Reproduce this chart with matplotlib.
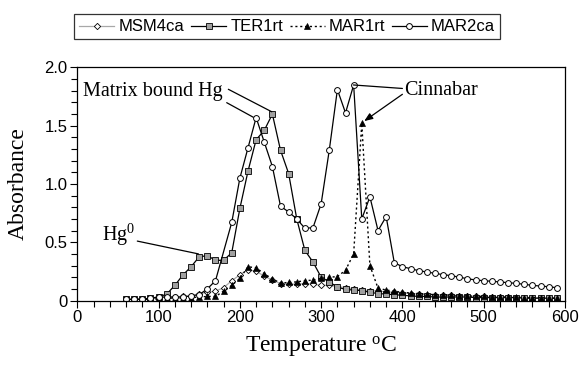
import matplotlib
matplotlib.use("Agg")
import matplotlib.pyplot as plt
from matplotlib.ticker import MultipleLocator, FixedLocator

# Temperature steps (deg C)
temps = list(range(60, 600, 10))
temps_mar2ca = [t for t in temps if t != 180]

msm4ca = [0.01, 0.01, 0.01, 0.015, 0.02, 0.03, 0.03, 0.035, 0.04, 0.06,
          0.07, 0.08, 0.11, 0.17, 0.22, 0.265, 0.25, 0.21, 0.175, 0.145,
          0.14, 0.14, 0.145, 0.14, 0.13, 0.13, 0.12, 0.11, 0.10, 0.09,
          0.085, 0.08, 0.075, 0.07, 0.065, 0.06, 0.055, 0.05, 0.05, 0.045,
          0.045, 0.04, 0.04, 0.035, 0.035, 0.03, 0.03, 0.03, 0.025, 0.025,
          0.025, 0.02, 0.02, 0.02]

ter1rt = [0.01, 0.01, 0.01, 0.02, 0.03, 0.055, 0.13, 0.22, 0.29, 0.375,
          0.385, 0.345, 0.345, 0.41, 0.79, 1.11, 1.38, 1.46, 1.60, 1.29,
          1.09, 0.70, 0.43, 0.33, 0.20, 0.16, 0.115, 0.095, 0.09, 0.085,
          0.07, 0.06, 0.055, 0.05, 0.045, 0.04, 0.035, 0.035, 0.03, 0.03,
          0.03, 0.03, 0.03, 0.025, 0.025, 0.025, 0.025, 0.025, 0.025, 0.02,
          0.02, 0.02, 0.02, 0.02]

mar1rt = [0.01, 0.01, 0.01, 0.01, 0.015, 0.02, 0.02, 0.02, 0.025, 0.03,
          0.035, 0.035, 0.08, 0.13, 0.19, 0.29, 0.28, 0.23, 0.185, 0.15,
          0.155, 0.16, 0.17, 0.175, 0.19, 0.20, 0.205, 0.26, 0.40, 1.52,
          0.30, 0.105, 0.09, 0.08, 0.07, 0.065, 0.06, 0.055, 0.05, 0.05,
          0.045, 0.04, 0.04, 0.035, 0.035, 0.03, 0.03, 0.03, 0.03, 0.025,
          0.025, 0.025, 0.02, 0.02]

mar2ca = [0.01, 0.01, 0.013, 0.02, 0.03, 0.03, 0.03, 0.03, 0.04, 0.05,
          0.10, 0.17, 0.67, 1.05, 1.31, 1.57, 1.36, 1.15, 0.81, 0.76,
          0.70, 0.62, 0.625, 0.83, 1.29, 1.81, 1.61, 1.85, 0.70, 0.89,
          0.60, 0.72, 0.325, 0.29, 0.273, 0.256, 0.245, 0.233, 0.222, 0.213,
          0.20, 0.187, 0.176, 0.17, 0.165, 0.159, 0.153, 0.147, 0.139, 0.13,
          0.124, 0.118, 0.11]

x_ticks = [0, 100, 200, 300, 400, 500, 600]
y_ticks = [0, 0.5, 1.0, 1.5, 2.0]
y_tick_labels = ["0", "0.5", "1.0", "1.5", "2.0"]

plt.rcParams["font.family"] = "Liberation Sans"
plt.rcParams["mathtext.fontset"] = "custom"
plt.rcParams["mathtext.rm"] = "Liberation Serif"
plt.rcParams["mathtext.it"] = "Liberation Serif"
serif = "Liberation Serif"

fig = plt.figure(figsize=(5.84, 3.68), dpi=100)
ax = fig.add_axes([0.1324, 0.1834, 0.835, 0.6332])

# Series, in legend order (last one on top)
ax.plot(temps, msm4ca, color="#a8a8a8", lw=0.9, marker="D", ms=3.2,
        mfc="white", mec="black", mew=0.6, label="MSM4ca")
ax.plot(temps, ter1rt, color="black", lw=0.9, marker="s", ms=4.2,
        mfc="#a0a0a0", mec="black", mew=0.6, label="TER1rt")
ax.plot(temps, mar1rt, color="black", lw=1.0, ls=(0, (1.5, 2)), marker="^",
        ms=4.6, mfc="black", mec="black", mew=0.5, label="MAR1rt")
ax.plot(temps_mar2ca, mar2ca, color="black", lw=0.9, marker="o", ms=4.2,
        mfc="white", mec="black", mew=0.7, label="MAR2ca")

# Axes limits and ticks
ax.set_xlim(0, 600)
ax.set_ylim(0, 2.0)
ax.xaxis.set_major_locator(FixedLocator(x_ticks))
ax.xaxis.set_minor_locator(MultipleLocator(20))
ax.set_yticks(y_ticks)
ax.set_yticklabels(y_tick_labels)
ax.yaxis.set_minor_locator(MultipleLocator(0.1))
ax.tick_params(which="both", direction="out", top=False, right=False,
               labelsize=12, width=0.8, pad=2)
ax.tick_params(which="major", length=5)
ax.tick_params(which="minor", length=4)
for s in ax.spines.values():
    s.set_linewidth(0.9)

ax.set_xlabel("Temperature $^{\\mathrm{o}}$C", fontsize=17, family=serif,
              labelpad=6)
ax.set_ylabel("Absorbance", fontsize=17, family=serif)
ax.yaxis.set_label_coords(-0.10, 0.5)

# Annotations
ax.text(7, 1.79, "Matrix bound Hg", fontsize=14.5, family=serif,
        va="center", ha="left")
ax.annotate("", xy=(216.5, 1.573), xytext=(183.8, 1.698),
            arrowprops=dict(arrowstyle="-", color="black", lw=0.9,
                            shrinkA=0, shrinkB=0))
ax.annotate("", xy=(239.2, 1.62), xytext=(185.8, 1.813),
            arrowprops=dict(arrowstyle="-", color="black", lw=0.9,
                            shrinkA=0, shrinkB=0))

ax.text(30, 0.56, "Hg$^{0}$", fontsize=14.5, family=serif,
        va="center", ha="left")
ax.annotate("", xy=(149, 0.40), xytext=(73.8, 0.51),
            arrowprops=dict(arrowstyle="-", color="black", lw=0.9,
                            shrinkA=0, shrinkB=0))

ax.text(402, 1.80, "Cinnabar", fontsize=14.5, family=serif,
        va="center", ha="left")
ax.annotate("", xy=(339.6, 1.85), xytext=(400, 1.82),
            arrowprops=dict(arrowstyle="-", color="black", lw=0.9,
                            shrinkA=0, shrinkB=0))
ax.annotate("", xy=(353, 1.54), xytext=(400, 1.77),
            arrowprops=dict(arrowstyle="-|>,head_length=0.5,head_width=0.2",
                            color="black", lw=0.9, shrinkA=0, shrinkB=0))

# Legend above the plot
leg = fig.legend(loc="center", bbox_to_anchor=(0.492, 0.927), ncol=4,
                 fontsize=12, frameon=True, fancybox=False,
                 handlelength=2.1, handletextpad=0.25, columnspacing=0.4,
                 borderpad=0.3, borderaxespad=0)
leg.get_frame().set_edgecolor("black")
leg.get_frame().set_linewidth(0.9)

fig.savefig("out.png", dpi=100)
